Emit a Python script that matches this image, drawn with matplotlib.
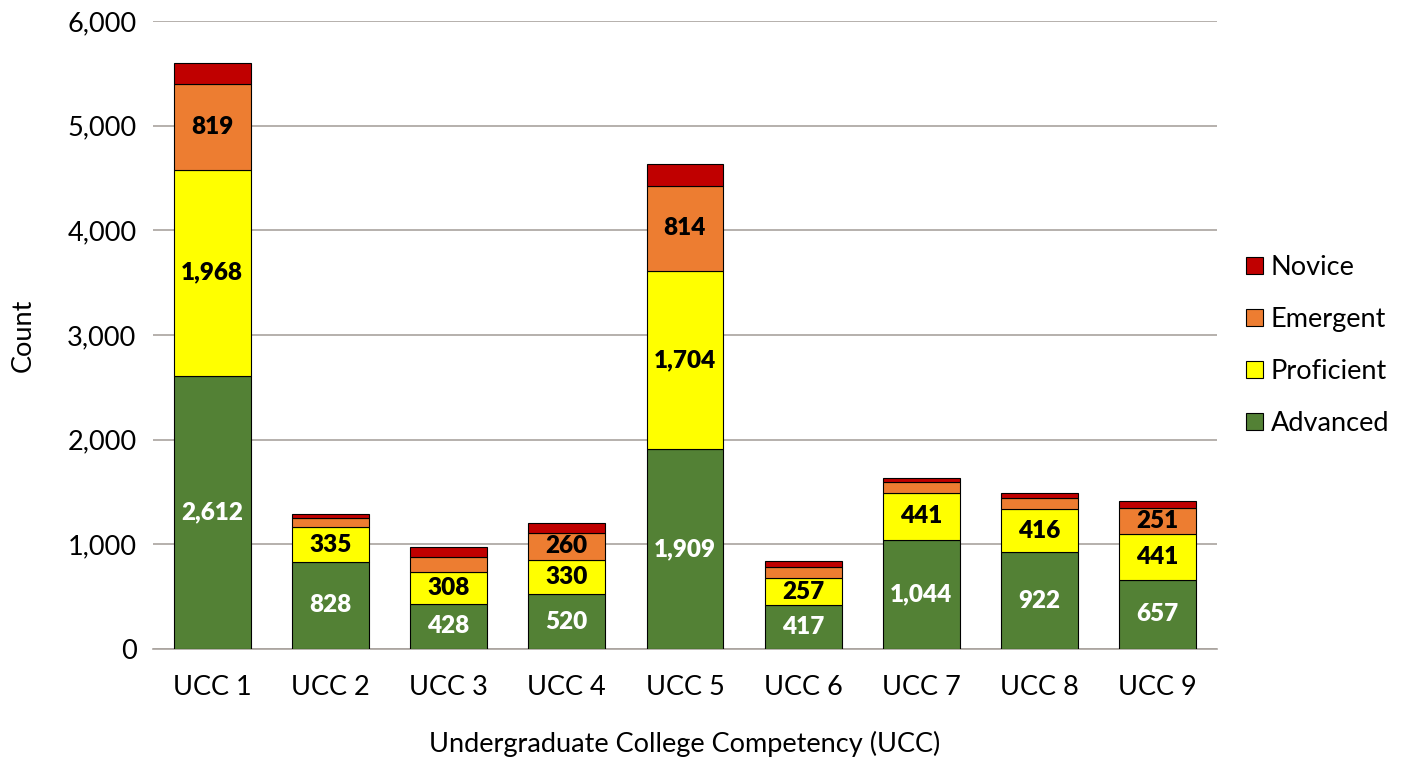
"""Stacked counts of UCC ratings by competency level."""

import matplotlib
matplotlib.use("Agg")
import matplotlib.pyplot as plt
import numpy as np

categories = ["UCC 1", "UCC 2", "UCC 3", "UCC 4", "UCC 5", "UCC 6", "UCC 7", "UCC 8", "UCC 9"]
advanced = [2612, 828, 428, 520, 1909, 417, 1044, 922, 657]
proficient = [1968, 335, 308, 330, 1704, 257, 441, 416, 441]
emergent = [819, 91, 145, 260, 814, 110, 110, 105, 251]
novice = [200, 36, 88, 92, 203, 55, 38, 42, 60]

levels = ["Advanced", "Proficient", "Emergent", "Novice"]
colors = ["#538135", "#FFFF00", "#ED7D31", "#C00000"]
text_colors = ["white", "black", "black", None]


def main() -> None:
    plt.rcParams["font.family"] = ["Lato", "DejaVu Sans"]
    fig, ax = plt.subplots(figsize=(14.05, 7.57), dpi=100)
    fig.subplots_adjust(left=0.109, right=0.866, top=0.972, bottom=0.143)

    x = np.arange(len(categories))
    bottom = np.zeros(len(categories))
    handles = []
    for series, name, color, tcolor in zip((advanced, proficient, emergent, novice), levels, colors, text_colors):
        vals = np.array(series, dtype=float)
        bars = ax.bar(x, vals, 0.65, bottom=bottom, color=color, edgecolor="black", linewidth=0.8, label=name, zorder=3)
        handles.append(bars)
        if tcolor is not None:
            for xi, b, v in zip(x, bottom, vals):
                if v >= 200:
                    ax.text(xi, b + v / 2, f"{int(v):,}", ha="center", va="center", color=tcolor,
                            fontsize=17.5, fontweight="heavy", zorder=4)
        bottom += vals

    ax.set_xlim(-0.5, len(categories) - 0.5)
    ax.set_ylim(0, 6000)
    ax.set_yticks(range(0, 6001, 1000))
    ax.yaxis.set_major_formatter(matplotlib.ticker.FuncFormatter(lambda v, p: f"{int(v):,}"))
    ax.set_xticks(x)
    ax.set_xticklabels(categories)
    ax.tick_params(axis="both", length=0, labelsize=19.5)
    ax.tick_params(axis="x", pad=19)
    ax.tick_params(axis="y", pad=12)
    ax.grid(axis="y", color="#A9A39E", linewidth=1.2, zorder=0)
    for side in ("top", "right", "left"):
        ax.spines[side].set_visible(False)
    ax.spines["bottom"].set_color("#A9A39E")
    ax.spines["bottom"].set_linewidth(1.2)
    ax.set_xlabel("Undergraduate College Competency (UCC)", fontsize=19.5, labelpad=22)
    ax.set_ylabel("Count", fontsize=19.5, labelpad=23)

    ax.legend(handles[::-1], levels[::-1], loc="center left", bbox_to_anchor=(1.005, 0.483), frameon=False,
              fontsize=19.5, handlelength=0.6, handleheight=0.6, labelspacing=1.0, handletextpad=0.3)

    fig.savefig("out.png", dpi=100)
    plt.close(fig)


if __name__ == "__main__":
    main()
